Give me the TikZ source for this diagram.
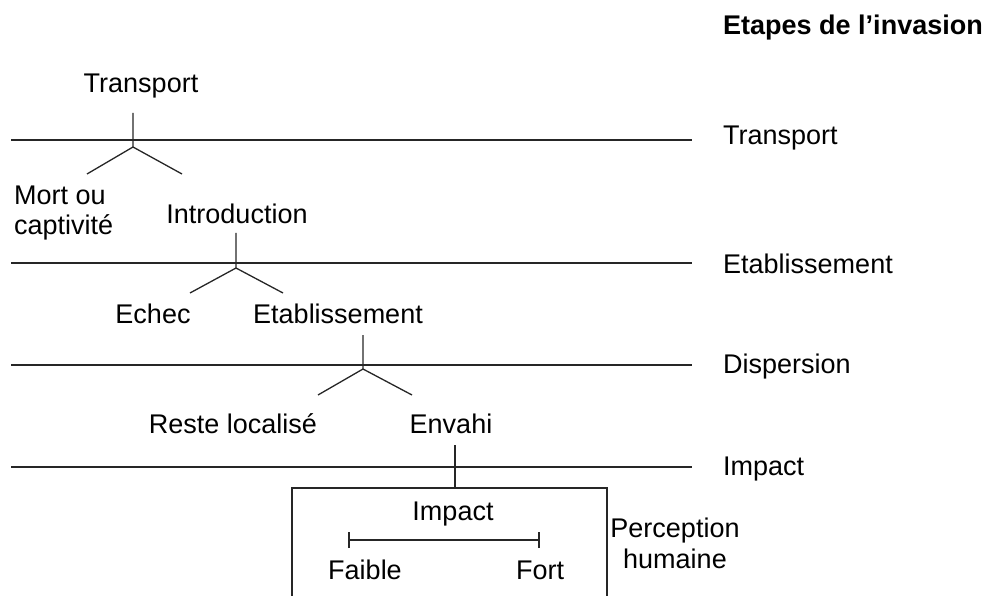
\documentclass[tikz,border=0pt]{standalone}
\usepackage{fontspec}
\setmainfont{Liberation Sans}
\begin{document}
\begin{tikzpicture}[x=1pt,y=-1pt,
  lbl/.style={inner sep=0pt,anchor=base,font=\fontsize{27}{31}\selectfont},
  stage/.style={lbl,anchor=base west},
  ln/.style={line width=1.3pt,draw=black!85}]
\useasboundingbox (0,0) rectangle (985,596);
% title
\node[stage,font=\fontsize{27}{31}\selectfont\bfseries] (title) at (723,35) {Etapes de l’invasion};
% stage lines and labels
\node[stage] (sT) at (723,145) {Transport};
\node[stage] (sE) at (723,273) {Etablissement};
\node[stage] (sD) at (723,373) {Dispersion};
\node[stage] (sI) at (723,475) {Impact};
\coordinate (l1a) at (11,140); \coordinate (l1b) at (692,140);
\coordinate (l2a) at (11,263); \coordinate (l2b) at (692,263);
\coordinate (l3a) at (11,365); \coordinate (l3b) at (692,365);
\coordinate (l4a) at (11,467); \coordinate (l4b) at (692,467);
\draw[ln] (l1a) -- (l1b);
\draw[ln] (l2a) -- (l2b);
\draw[ln] (l3a) -- (l3b);
\draw[ln] (l4a) -- (l4b);
% tree 1
\node[lbl] (transport) at (141,93) {Transport};
\node[lbl,anchor=base west,align=left] (mort) at (14,235) {Mort ou\\captivité};
\node[lbl] (intro) at (237,223) {Introduction};
\coordinate (t1top) at (133,113); \coordinate (t1j) at (133,147);
\coordinate (t1l) at (87,174); \coordinate (t1r) at (182,174);
\draw[ln] (t1top) -- (t1j) -- (t1l);
\draw[ln] (t1j) -- (t1r);
% tree 2
\node[lbl] (echec) at (153,323) {Echec};
\node[lbl] (etab) at (338,323) {Etablissement};
\coordinate (t2top) at (236,233); \coordinate (t2j) at (236,268);
\coordinate (t2l) at (190,293); \coordinate (t2r) at (283,293);
\draw[ln] (t2top) -- (t2j) -- (t2l);
\draw[ln] (t2j) -- (t2r);
% tree 3
\node[lbl] (reste) at (233,433) {Reste localisé};
\node[lbl] (envahi) at (451,433) {Envahi};
\coordinate (t3top) at (363,335); \coordinate (t3j) at (363,369);
\coordinate (t3l) at (318,395); \coordinate (t3r) at (412,395);
\draw[ln] (t3top) -- (t3j) -- (t3l);
\draw[ln] (t3j) -- (t3r);
% impact box
\coordinate (etop) at (455,445); \coordinate (boxtop) at (455,488);
\draw[ln] (etop) -- (boxtop);
\coordinate (bl) at (292,600); \coordinate (br) at (607,600);
\draw[ln] (bl) |- (boxtop) -| (br);
\node[lbl] (impact) at (453,520) {Impact};
\coordinate (sa) at (349,540); \coordinate (sb) at (539,540);
\draw[ln] (sa) -- (sb);
\draw[ln] ([yshift=-8]sa) -- ([yshift=8]sa);
\draw[ln] ([yshift=-8]sb) -- ([yshift=8]sb);
\node[lbl] (faible) at (365,579) {Faible};
\node[lbl] (fort) at (540,579) {Fort};
\node[lbl,align=center] (percep) at (675,568) {Perception\\humaine};
\end{tikzpicture}
\end{document}
